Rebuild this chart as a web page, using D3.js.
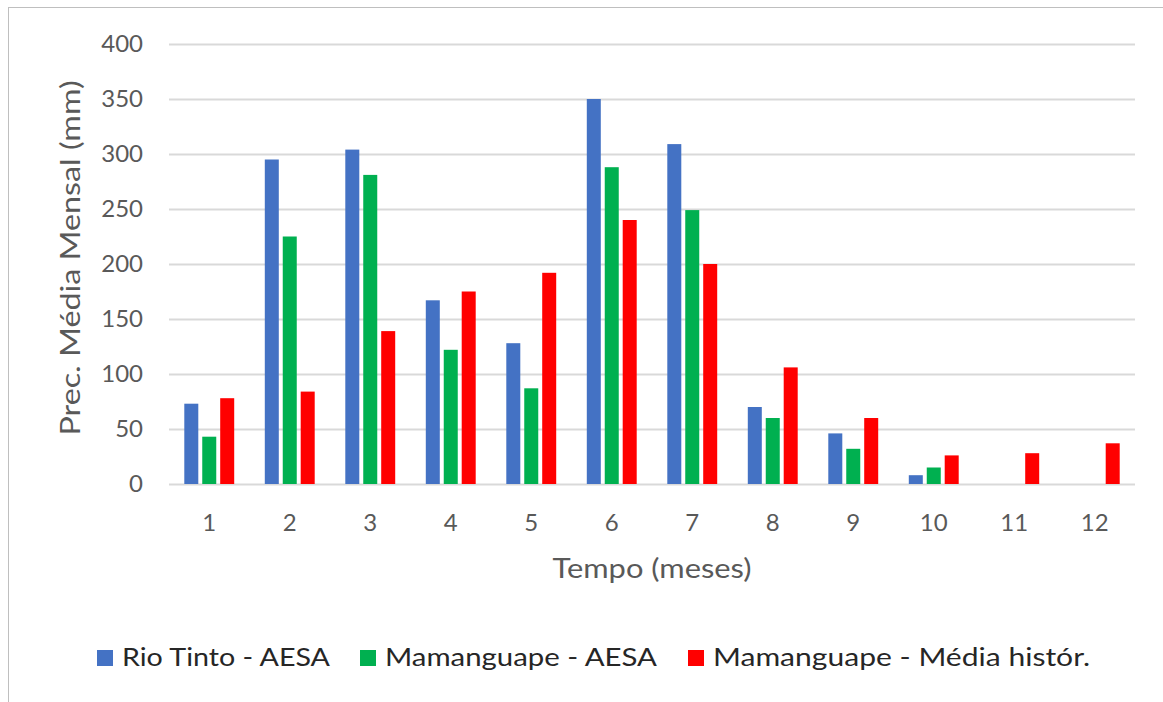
<!DOCTYPE html>
<html>
<head>
<meta charset="utf-8">
<script src="https://cdn.jsdelivr.net/npm/d3@7"></script>
<style>
  body { margin: 0; background: #fff; }
  svg { display: block; font-family: Lato, "Open Sans", sans-serif; }
</style>
</head>
<body>
<svg id="chart"></svg>
<script>
const months = ["1", "2", "3", "4", "5", "6", "7", "8", "9", "10", "11", "12"];
const seriesNames = ["Rio Tinto - AESA", "Mamanguape - AESA", "Mamanguape - Média histór."];
const rioTinto = [73, 295, 304, 167, 128, 350, 309, 70, 46, 8, null, null];
const mamanguape = [43, 225, 281, 122, 87, 288, 249, 60, 32, 15, null, null];
const mediaHist = [78, 84, 139, 175, 192, 240, 200, 106, 60, 26, 28, 37];
const yTicks = [0, 50, 100, 150, 200, 250, 300, 350, 400];

const colors = ["#4472C4", "#00B050", "#FF0000"];

const width = 1163;
const height = 702;
const marginTop = 44;
const marginRight = 28;
const marginBottom = 218;
const marginLeft = 169;

const svg = d3.select("svg#chart")
  .attr("width", width)
  .attr("height", height)
  .attr("viewBox", [0, 0, width, height]);

// chart border (only left and top visible in the crop)
svg.append("rect")
  .attr("x", 8.5)
  .attr("y", 7.5)
  .attr("width", 1300)
  .attr("height", 800)
  .attr("fill", "none")
  .attr("stroke", "#bfbfbf")
  .attr("stroke-width", 1);

const allSeries = [rioTinto, mamanguape, mediaHist];

const x = d3.scaleBand(months, [marginLeft, width - marginRight])
  .paddingInner(0.38)
  .paddingOuter(0.19);

const xSub = d3.scaleBand([0, 1, 2], [0, x.bandwidth()])
  .paddingInner(0.22)
  .paddingOuter(0);

const y = d3.scaleLinear([0, 400], [height - marginBottom, marginTop]);

// y axis: labels + gridlines, no domain
svg.append("g")
  .attr("transform", `translate(${marginLeft},0)`)
  .call(d3.axisLeft(y).tickValues(yTicks).tickSize(0).tickPadding(26))
  .call(g => g.select(".domain").remove())
  .call(g => g.selectAll(".tick text")
    .attr("fill", "#595959")
    .attr("font-size", 24)
    .attr("font-family", "Lato, 'Open Sans', sans-serif"))
  .call(g => g.selectAll(".tick line").clone()
    .attr("x2", width - marginLeft - marginRight)
    .attr("stroke", "#d9d9d9")
    .attr("stroke-width", 2));

// bars
const groups = svg.append("g")
  .selectAll("g")
  .data(months)
  .join("g")
  .attr("transform", d => `translate(${x(d)},0)`);

groups.selectAll("rect")
  .data((m, i) => allSeries.map((s, k) => ({ k: k, v: s[i] })).filter(d => d.v != null))
  .join("rect")
  .attr("x", d => xSub(d.k))
  .attr("width", xSub.bandwidth())
  .attr("y", d => y(d.v))
  .attr("height", d => y(0) - y(d.v))
  .attr("fill", d => colors[d.k]);

// x axis labels
svg.append("g")
  .attr("transform", `translate(0,${height - marginBottom})`)
  .call(d3.axisBottom(x).tickSize(0).tickPadding(30))
  .call(g => g.select(".domain").remove())
  .call(g => g.selectAll(".tick text")
    .attr("fill", "#595959")
    .attr("font-size", 24)
    .attr("font-family", "Lato, 'Open Sans', sans-serif"));

// axis titles
svg.append("text")
  .attr("x", 652)
  .attr("y", 578)
  .attr("text-anchor", "middle")
  .attr("fill", "#595959")
  .attr("font-size", 27)
  .attr("textLength", 199)
  .attr("lengthAdjust", "spacingAndGlyphs")
  .text("Tempo (meses)");

svg.append("text")
  .attr("transform", "translate(80,258) rotate(-90)")
  .attr("text-anchor", "middle")
  .attr("fill", "#595959")
  .attr("font-size", 27)
  .attr("textLength", 355)
  .attr("lengthAdjust", "spacingAndGlyphs")
  .text("Prec. Média Mensal (mm)");

// legend
const legendX = [97, 360, 688];
const legendLen = [208, 272, 377];
const legend = svg.append("g");
seriesNames.forEach((name, i) => {
  legend.append("rect")
    .attr("x", legendX[i])
    .attr("y", 650)
    .attr("width", 16)
    .attr("height", 16)
    .attr("fill", colors[i]);
  legend.append("text")
    .attr("x", legendX[i] + 25)
    .attr("y", 666)
    .attr("fill", "#262626")
    .attr("font-size", 25)
    .attr("textLength", legendLen[i])
    .attr("lengthAdjust", "spacingAndGlyphs")
    .text(name);
});
</script>
</body>
</html>
